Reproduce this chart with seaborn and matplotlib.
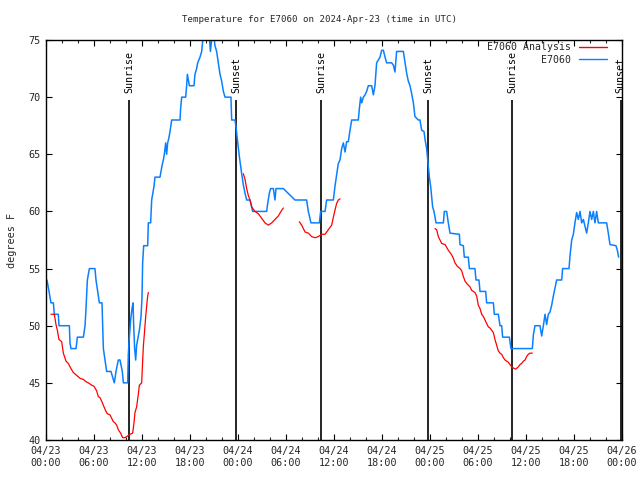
import numpy as np
import pandas as pd
import matplotlib
matplotlib.use("Agg")
import matplotlib.pyplot as plt
from matplotlib.lines import Line2D
import seaborn as sns

# ---------------- data (hours since 2024-04-23 00:00 UTC) ----------------
obs_hours = [0.12, 0.38, 0.62, 0.92, 1.04, 1.54, 1.62, 2.92, 3.0, 3.12, 3.75, 3.92, 4.67, 4.88,
             5.0, 5.17, 5.42, 6.12, 6.25, 6.46, 6.67, 7.0, 7.17, 7.38, 7.58, 8.12, 8.33, 8.54,
             8.75, 9.04, 9.25, 9.54, 9.67, 10.21, 10.29, 10.42, 10.58, 10.75, 10.88, 10.96,
             11.08, 11.21, 11.33, 11.67, 11.88, 12.0, 12.08, 12.21, 12.71, 12.79, 13.08, 13.21,
             13.33, 13.5, 13.62, 14.25, 14.38, 14.5, 14.67, 14.79, 14.96, 15.08, 15.21, 15.38,
             15.5, 15.71, 16.75, 16.83, 16.96, 17.46, 17.58, 17.67, 17.79, 17.92, 18.5, 18.62,
             18.83, 18.96, 19.25, 19.46, 19.67, 20.4, 20.55, 20.75, 21.0, 21.12, 21.33, 21.54,
             21.75, 21.96, 22.17, 22.38, 23.12, 23.21, 23.62, 23.75, 23.92, 24.17, 24.46, 24.67,
             24.88, 25.08, 25.5, 25.71, 25.83, 27.58, 27.71, 27.92, 28.08, 28.42, 28.62, 28.75,
             29.67, 31.12, 32.58, 32.79, 33.12, 34.17, 34.33, 34.88, 35.08, 35.92, 36.12, 36.33,
             36.54, 36.75, 36.96, 37.17, 37.38, 37.58, 37.79, 38.0, 38.21, 39.04, 39.17, 39.33,
             39.46, 39.67, 39.88, 40.08, 40.29, 40.71, 40.92, 41.12, 41.33, 41.75, 41.96, 42.17,
             42.38, 42.58, 43.21, 43.42, 43.62, 43.83, 44.67, 44.88, 45.08, 45.29, 45.5, 45.71,
             45.92, 46.12, 46.54, 46.75, 46.96, 47.25, 47.38, 47.58, 47.79, 47.92, 48.08, 48.21,
             48.33, 48.5, 48.75, 49.67, 49.79, 50.08, 50.29, 50.5, 51.67, 51.75, 52.17, 52.29,
             52.79, 52.92, 53.62, 53.75, 54.12, 54.25, 54.96, 55.08, 55.92, 56.04, 56.54, 56.75,
             56.96, 57.08, 57.92, 58.12, 60.79, 60.92, 61.12, 61.75, 61.96, 62.17, 62.38, 62.58,
             62.79, 63.0, 63.21, 63.42, 63.62, 63.83, 64.46, 64.58, 65.38, 65.5, 65.71, 65.92,
             66.12, 66.33, 66.54, 66.75, 66.96, 67.17, 67.38, 67.58, 67.79, 68.0, 68.21, 68.42,
             68.62, 68.83, 69.04, 70.08, 70.29, 70.5, 71.25, 71.42, 71.58]
obs_temps = [54, 53, 52, 52, 51, 51, 50, 50, 48.5, 48, 48, 49, 49, 50,
             51.5, 54, 55, 55, 54, 53, 52, 52, 48, 47, 46, 46, 45.5, 45,
             46, 47, 47, 46, 45, 45, 47.5, 49, 50.5, 51.5, 52, 50,
             48, 47, 48.3, 49.6, 50.8, 52.5, 55.5, 57, 57, 59, 59, 61,
             61.5, 62.2, 63, 63, 63.5, 64, 64.5, 65, 66, 65, 66, 66.5,
             67, 68, 68, 69, 70, 70, 71, 72, 71.5, 71, 71, 72,
             72.5, 73, 73.5, 74, 75.5, 75.5, 74, 75.3, 75.3, 74.5, 74, 73,
             72, 71.4, 70.5, 70, 70, 68, 68, 67.4, 66.3, 64.8, 63.3, 62.3,
             61.6, 61, 61, 60.4, 60, 60, 60.7, 61.6, 62, 62, 61, 62,
             62, 61, 61, 60, 59, 59, 60, 60, 61, 61, 62.2, 63.2,
             64.2, 64.5, 65.5, 66, 65.2, 66.1, 66.1, 67.1, 68, 68, 69, 70,
             69.5, 70, 70.2, 70.5, 71, 71, 70.2, 71, 73, 73.5, 74.1, 74.1,
             73.5, 73, 73, 72.8, 72.2, 74, 74, 73, 72.1, 71.4, 71, 70.3,
             69.5, 68.3, 68, 68, 67.1, 67, 66.3, 65.5, 63.9, 63, 62.2, 61.3,
             60.4, 60, 59, 59, 60, 60, 59, 58.1, 58, 57.1, 57, 56,
             56, 55, 55, 54, 54, 53, 53, 52, 52, 51, 51, 50,
             50, 49, 49, 48, 48, 49.2, 50, 50, 49.1, 50, 51, 50.1,
             51, 51.2, 51.8, 52.6, 53.3, 54, 54, 55, 55, 56.1, 57.5, 58,
             59, 59.9, 59.3, 60, 59, 59.3, 58.7, 58.1, 59, 60, 59.3, 60,
             59, 60, 59, 59, 58.1, 57.1, 57, 56.6, 56]

ana_seg1_hours = [0.62, 1.04, 1.25, 1.42, 1.62, 1.96, 2.17, 2.5, 2.79, 3.08, 3.42, 3.75, 4.25,
                  4.67, 5.0, 5.29, 5.71, 6.0, 6.33, 6.54, 6.75, 6.96, 7.25, 7.5, 7.67, 8.0,
                  8.42, 8.62, 8.83, 9.04, 9.33, 9.58, 9.88, 10.08, 10.5, 10.83, 11.0, 11.12,
                  11.33, 11.54, 11.67, 11.96, 12.08, 12.17, 12.33, 12.46, 12.58, 12.71, 12.79]
ana_seg1_temps = [51, 51, 50.1, 49.6, 48.8, 48.6, 47.6, 46.9, 46.7, 46.3, 45.9, 45.7, 45.4,
                  45.3, 45.1, 45.0, 44.8, 44.7, 44.3, 43.8, 43.7, 43.4, 42.9, 42.5, 42.3, 42.2,
                  41.6, 41.5, 41.3, 40.9, 40.6, 40.2, 40.2, 40.3, 40.5, 40.6, 41.5, 42.4,
                  42.9, 44.0, 44.8, 45.0, 46.9, 48.2, 49.6, 50.8, 51.7, 52.6, 52.9]
ana_seg2_hours = [24.67, 24.88, 25.08, 25.29, 25.5, 25.71, 26.12, 26.54, 26.96, 27.38, 27.79,
                  28.21, 28.62, 29.04, 29.46, 29.67]
ana_seg2_temps = [63.3, 62.8, 62.0, 61.4, 61.0, 60.4, 60.0, 59.8, 59.4, 59.0, 58.8,
                  59.0, 59.3, 59.6, 60.1, 60.3]
ana_seg3_hours = [31.67, 31.96, 32.38, 32.79, 33.21, 33.62, 34.04, 34.46, 34.88, 35.29, 35.71,
                  35.92, 36.12, 36.33, 36.54, 36.75]
ana_seg3_temps = [59.1, 58.8, 58.2, 58.1, 57.8, 57.7, 57.8, 58.0, 58.0, 58.4, 58.8,
                  59.5, 60.1, 60.7, 61.0, 61.1]
ana_seg4_hours = [48.62, 48.83, 49.04, 49.25, 49.46, 49.88, 50.29, 50.71, 50.92, 51.12, 51.42,
                  51.75, 51.96, 52.17, 52.38, 52.58, 53.0, 53.21, 53.62, 53.83, 54.04, 54.25,
                  54.46, 54.67, 54.88, 55.08, 55.29, 55.5, 55.71, 55.92, 56.12, 56.33, 56.54,
                  56.75, 56.96, 57.17, 57.38, 57.58, 57.79, 58.0, 58.21, 58.42, 58.71, 59.04,
                  59.25, 59.46, 59.67, 59.88, 60.08, 60.29, 60.5, 60.79]
ana_seg4_temps = [58.5, 58.4, 57.8, 57.5, 57.2, 57.1, 56.6, 56.2, 55.9, 55.5, 55.2,
                  55.0, 54.8, 54.3, 53.9, 53.7, 53.4, 53.1, 52.9, 52.6, 51.8, 51.5,
                  51.0, 50.8, 50.5, 50.2, 49.9, 49.8, 49.6, 49.4, 48.8, 48.3, 47.8,
                  47.6, 47.5, 47.2, 47.0, 46.9, 46.8, 46.6, 46.4, 46.3, 46.2, 46.4,
                  46.6, 46.7, 46.9, 47.0, 47.3, 47.5, 47.6, 47.6]

sun_hours = [10.4, 23.75, 34.4, 47.8, 58.3, 71.85]
sun_labels = ["Sunrise", "Sunset", "Sunrise", "Sunset", "Sunrise", "Sunset"]

xtick_hours = list(range(0, 73, 6))
xtick_labels = ["04/23\n00:00", "04/23\n06:00", "04/23\n12:00", "04/23\n18:00",
                "04/24\n00:00", "04/24\n06:00", "04/24\n12:00", "04/24\n18:00",
                "04/25\n00:00", "04/25\n06:00", "04/25\n12:00", "04/25\n18:00",
                "04/26\n00:00"]
ytick_values = [40, 45, 50, 55, 60, 65, 70, 75]

title = "Temperature for E7060 on 2024-Apr-23 (time in UTC)"
ylabel = "degrees F"
name_ana = "E7060 Analysis"
name_obs = "E7060"

BLUE = "#0a80ff"
RED = "#ff0000"

# ---------------- style ----------------
sns.set_style("ticks")
plt.rcParams["font.family"] = ["DejaVu Sans Mono"]

fig = plt.figure(figsize=(6.4, 4.8), dpi=100)
ax = fig.add_axes([46 / 640, 40 / 480, 576 / 640, 400 / 480])

obs_df = pd.DataFrame({"hour": obs_hours, "temp": obs_temps})
ana_df = pd.concat([
    pd.DataFrame({"hour": h, "temp": t, "seg": i})
    for i, (h, t) in enumerate([(ana_seg1_hours, ana_seg1_temps),
                                (ana_seg2_hours, ana_seg2_temps),
                                (ana_seg3_hours, ana_seg3_temps),
                                (ana_seg4_hours, ana_seg4_temps)])
], ignore_index=True)

sns.lineplot(data=obs_df, x="hour", y="temp", color=BLUE, linewidth=1.1,
             estimator=None, ax=ax, legend=False)
sns.lineplot(data=ana_df, x="hour", y="temp", units="seg", color=RED, linewidth=0.9,
             estimator=None, ax=ax, legend=False)

ax.set_xlim(0, 72)
ax.set_ylim(40, 75)

# sunrise / sunset markers
for h, lab in zip(sun_hours, sun_labels):
    ax.vlines(h, 40, 69.75, color="black", linewidth=1.2, zorder=1)
    ax.text(h, 70.4, lab, rotation=90, ha="center", va="bottom", fontsize=7.2,
            color="black")

ax.set_xticks(xtick_hours)
ax.set_xticklabels(xtick_labels, fontsize=7.3, linespacing=1.35)
ax.set_xticks(np.arange(0, 73, 2), minor=True)
ax.set_yticks(ytick_values)
ax.set_yticklabels([str(v) for v in ytick_values], fontsize=7.3)

ax.tick_params(axis="both", which="major", direction="in", length=4.5, width=0.8,
               top=True, right=True, color="black", pad=4)
ax.tick_params(axis="x", which="minor", direction="in", length=2.5, width=0.8,
               top=True, bottom=True)
ax.tick_params(axis="y", which="minor", left=False, right=False)

for sp in ax.spines.values():
    sp.set_color("black")
    sp.set_linewidth(1.0)
    sp.set_visible(True)

ax.set_xlabel("")
ax.set_ylabel(ylabel, fontsize=7.3, labelpad=8)
fig.text(0.5, 1 - 20 / 480, title, ha="center", va="center", fontsize=6.6)

handles = [Line2D([], [], color=RED, linewidth=1.0),
           Line2D([], [], color=BLUE, linewidth=1.0)]
ax.legend(handles, [name_ana, name_obs], loc="upper right", bbox_to_anchor=(0.978, 1.0),
          frameon=False, markerfirst=False, fontsize=7.1, handlelength=2.8,
          handletextpad=0.8, borderaxespad=0.15, labelspacing=0.25, borderpad=0.1)

fig.savefig("out.png", dpi=100)
